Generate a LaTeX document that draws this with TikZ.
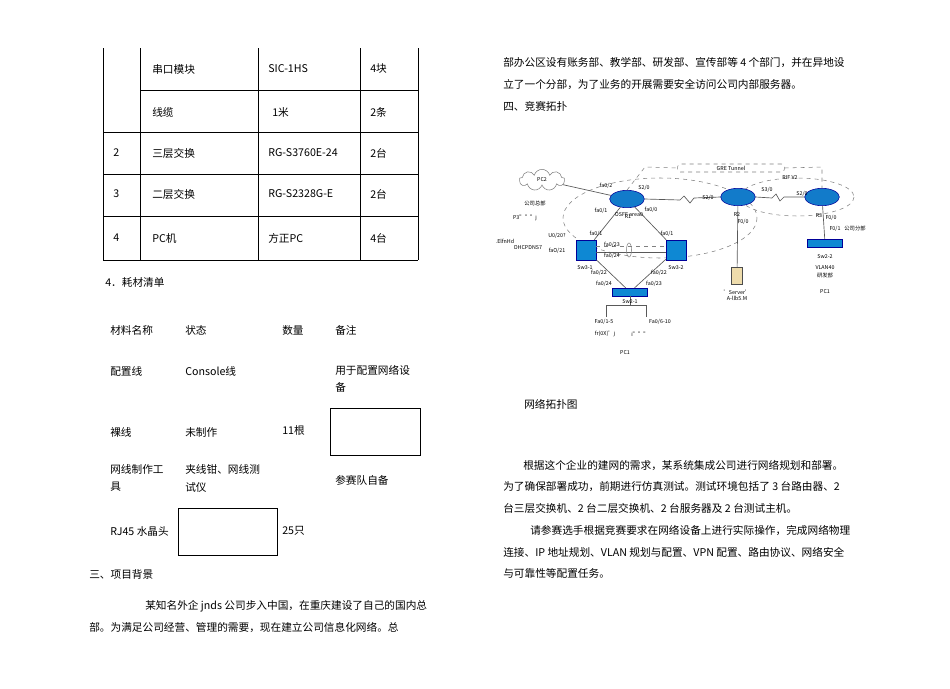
\documentclass[tikz,border=0pt]{standalone}
\usepackage{fontspec}
\setmainfont{Noto Sans CJK SC}
\usetikzlibrary{shapes.geometric,shapes.symbols}
\begin{document}
\begin{tikzpicture}[x=0.75pt,y=-0.75pt,
  t/.style={anchor=west,inner sep=0pt,font=\fontsize{8}{10}\selectfont},
  s/.style={anchor=center,inner sep=0pt,font=\fontsize{4}{5}\selectfont},
  grid/.style={line width=0.6pt},
  rt/.style={ellipse,draw=blue!60!black,fill=cyan!60!blue,minimum width=26pt,minimum height=13pt,inner sep=0pt},
  sw3/.style={rectangle,draw=blue!60!black,fill=cyan!70!blue,minimum width=15pt,minimum height=15pt,inner sep=0pt},
  sw2/.style={rectangle,draw=blue!60!black,fill=cyan!70!blue,minimum width=26pt,minimum height=6pt,inner sep=0pt},
  lk/.style={gray!70!black,line width=0.5pt},
  dsh/.style={gray,dashed,line width=0.4pt}]
\fill[white] (0,0) rectangle (950,689);
\useasboundingbox (0,0) rectangle (950,689);
% table 1
\draw[grid] (103,48) -- (103,260) (140,48)--(140,260) (258,48)--(258,260) (360,48)--(360,260) (418,48)--(418,260);
\draw[grid] (140,90)--(418,90) (103,132)--(418,132) (103,174)--(418,174) (103,216)--(418,216) (103,260)--(418,260);
\node[t] (a1) at (152,69) {串口模块}; \node[t] (a2) at (268,69) {SIC-1HS}; \node[t] (a3) at (370,69) {4块};
\node[t] (b1) at (152,112) {线缆}; \node[t] (b2) at (272,112) {1米}; \node[t] (b3) at (370,112) {2条};
\node[t] (c0) at (113,153) {2}; \node[t] (c1) at (152,153) {三层交换}; \node[t] (c2) at (268,153) {RG-S3760E-24}; \node[t] (c3) at (370,153) {2台};
\node[t] (d0) at (113,194) {3}; \node[t] (d1) at (152,194) {二层交换}; \node[t] (d2) at (268,194) {RG-S2328G-E}; \node[t] (d3) at (370,194) {2台};
\node[t] (e0) at (113,238) {4}; \node[t] (e1) at (152,238) {PC机}; \node[t] (e2) at (268,238) {方正PC}; \node[t] (e3) at (370,238) {4台};
\node[t] (h4) at (105,282) {4．耗材清单};
% table 2
\node[t] (f1) at (110,330) {材料名称}; \node[t] (f2) at (185,330) {状态}; \node[t] (f3) at (282,330) {数量}; \node[t] (f4) at (335,330) {备注};
\node[t] (g1) at (110,371) {配置线}; \node[t] (g2) at (185,371) {Console线}; \node[t] (g3) at (335,370) {用于配置网络设}; \node[t] (g4) at (335,387) {备};
\node[t] (i1) at (110,432) {裸线}; \node[t] (i2) at (185,432) {未制作}; \node[t] (i3) at (282,430) {11根};
\draw[grid] (330,408) rectangle (420,455);
\node[t] (j1) at (110,469) {网线制作工}; \node[t] (j2) at (110,487) {具}; \node[t] (j3) at (185,469) {夹线钳、网线测}; \node[t] (j4) at (185,487) {试仪}; \node[t] (j5) at (335,480) {参赛队自备};
\node[t] (k1) at (110,531) {RJ45 水晶头}; \draw[grid] (178,508) rectangle (277,555); \node[t] (k3) at (282,531) {25只};
\node[t] (h3) at (89,574) {三、项目背景};
\node[t] (p1) at (145,606) {某知名外企 jnds 公司步入中国，在重庆建设了自己的国内总};
\node[t] (p2) at (89,628) {部。为满足公司经营、管理的需要，现在建立公司信息化网络。总};
% right column
\node[t] (q1) at (503,63) {部办公区设有账务部、教学部、研发部、宣传部等 4 个部门，并在异地设};
\node[t] (q2) at (503,85) {立了一个分部，为了业务的开展需要安全访问公司内部服务器。};
\node[t] (h5) at (503,106) {四、竞赛拓扑};
\node[t] (cap) at (524,404) {网络拓扑图};
\node[t] (r1) at (523,466) {根据这个企业的建网的需求，某系统集成公司进行网络规划和部署。};
\node[t] (r2) at (503,487) {为了确保部署成功，前期进行仿真测试。测试环境包括了 3 台路由器、2};
\node[t] (r3) at (503,508) {台三层交换机、2 台二层交换机、2 台服务器及 2 台测试主机。};
\node[t] (r4) at (530,531) {请参赛选手根据竞赛要求在网络设备上进行实际操作，完成网络物理};
\node[t] (r5) at (503,552) {连接、IP 地址规划、VLAN 规划与配置、VPN 配置、路由协议、网络安全};
\node[t] (r6) at (503,573) {与可靠性等配置任务。};
% topology
\draw[dsh] (660,218) ellipse [x radius=97, y radius=40];
\draw[dsh] (797,197) ellipse [x radius=57, y radius=19];
\node[draw=gray,dashed,rounded corners=2pt,minimum width=80pt,minimum height=6pt,inner sep=0pt,font=\fontsize{4}{5}\selectfont] (gre) at (731,168) {GRE Tunnel};
\node[cloud,draw=gray,cloud puffs=9,minimum width=34pt,minimum height=16pt,inner sep=0pt,font=\fontsize{4}{5}\selectfont] (pc2) at (542,180) {PC2};
\node[rt] (R1) at (627,199) {}; \node[rt] (R2) at (738,197) {}; \node[rt] (R3) at (822,197) {};
\node[sw3] (S31) at (586,250) {}; \node[sw3] (S32) at (676,250) {};
\node[sw2] (S21) at (630,292) {}; \node[sw2] (S22) at (825,243) {};
\node[draw=black!70,fill=yellow!30!brown!40,minimum width=8pt,minimum height=13pt,inner sep=0pt] (SV) at (737,276) {};
\coordinate (g1) at (645,167); \coordinate (g2) at (822,167);
\draw[dsh] (R1.north) -- (g1) -- (gre.west); \draw[dsh] (gre.east) -- (g2) -- (R3.north);
\draw[lk] (pc2) -- (R1);
\draw[lk] (R1) -- (S31); \draw[lk] (R1) -- (S32);
\draw[lk] (S31) -- (S21); \draw[lk] (S32) -- (S21);
\draw[lk] ([yshift=-2]S31.east) -- ([yshift=-2]S32.west);
\draw[dsh] ([yshift=3]S31.east) -- ([yshift=3]S32.west);
\draw[lk] (R1.east) -- (680,200) -- (684,196) -- (690,203) -- (694,198) -- (R2.west);
\draw[lk] (R2.east) -- (772,198) -- (776,194) -- (780,201) -- (784,197) -- (R3.west);
\draw[lk] (R2) -- (SV); \draw[lk] (R3) -- (S22);
\coordinate (b1) at (606,317); \coordinate (b2) at (646,317);
\draw[lk] (S21) -- (630,305) (b1) -- (606,305) -- (646,305) -- (b2);
\draw[gray] (629,250) ellipse [x radius=2.5, y radius=7];
\node[s] at (629,215) {OSFF area0}; \node[s] at (790,178) {RIF V2};
\node[s] at (606,186) {fa0/2}; \node[s] at (644,188) {S2/0}; \node[s] at (708,198) {S2/0};
\node[s] at (767,190) {S3/0}; \node[s] at (802,194) {S2/0};
\node[s] at (601,211) {fa0/1}; \node[s] at (651,210) {fa0/0}; \node[s] at (628,217) {R1};
\node[s] at (737,215) {R2}; \node[s] at (819,216) {R3}; \node[s] at (831,218) {F0/0}; \node[s] at (743,222) {F0/0};
\node[s] at (835,229) {F0/1}; \node[s] at (855,228) {公司分部};
\node[s] at (596,234) {fa0/1}; \node[s] at (667,234) {fa0/1};
\node[s] at (612,245) {fa0/23}; \node[s] at (612,256) {fa0/24};
\node[s] at (557,236) {U0/20?}; \node[s] at (557,251) {faO/21};
\node[s] at (585,268) {Sw3-1}; \node[s] at (676,268) {Sw3-2};
\node[s] at (599,273) {fa0/22}; \node[s] at (659,273) {fa0/22};
\node[s] at (604,284) {fa0/24}; \node[s] at (654,284) {fa0/23};
\node[s] at (630,302) {Sw2-1};
\node[s] at (604,322) {Fa0/1-5}; \node[s] at (660,322) {Fa0/6-10};
\node[s] at (605,334) {fr(0X)'j}; \node[s] at (640,334) {i''''''};
\node[s] at (625,353) {PC1};
\node[s] at (737,292) {'Server'}; \node[s] at (737,298) {A-llb5.M};
\node[s] at (825,257) {Sw2-2}; \node[s] at (825,268) {VLAN40}; \node[s] at (825,275) {研发部}; \node[s] at (825,292) {PC1};
\node[s] at (535,203) {公司总部};
\node[s] at (525,218) {P3''''''j};
\node[s] at (505,241) {.ElfnHd}; \node[s] at (528,248) {DHCPDNS7};
\end{tikzpicture}
\end{document}
